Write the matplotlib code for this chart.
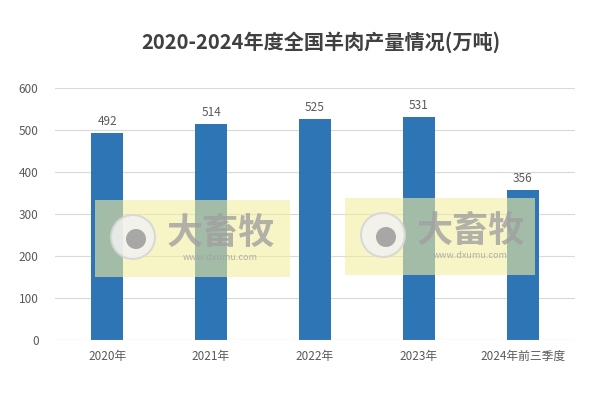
import matplotlib
matplotlib.use('Agg')
import matplotlib.pyplot as plt
from matplotlib.patches import Rectangle, Circle

plt.rcParams['font.family'] = ['Noto Sans CJK SC', 'DejaVu Sans']

categories = ["2020年", "2021年", "2022年", "2023年", "2024年前三季度"]
values = [492, 514, 525, 531, 356]
yticks = [0, 100, 200, 300, 400, 500, 600]

BAR = "#2E75B6"
TXT = "#595959"

fig = plt.figure(figsize=(6.0, 3.94), dpi=100)
fig.patch.set_facecolor("white")
ax = fig.add_axes([0.092, 0.137, 0.866, 0.640])

x = range(len(categories))
ax.bar(x, values, width=0.31, color=BAR, zorder=3)
for i, v in zip(x, values):
    ax.text(i, v + 12, str(v), ha="center", va="bottom", fontsize=8.5, color=TXT)

ax.set_ylim(0, 600)
ax.set_xlim(-0.5, len(categories) - 0.5)
ax.set_yticks(yticks)
ax.set_xticks(list(x))
ax.set_xticklabels(categories)
ax.tick_params(axis="both", length=0, colors=TXT, labelsize=8.5)
ax.tick_params(axis="y", pad=12)
ax.tick_params(axis="x", pad=7)
ax.grid(axis="y", color="#D9D9D9", linewidth=0.8, zorder=0)
for s in ax.spines.values():
    s.set_visible(False)
ax.axhline(0, color="#D9D9D9", linewidth=0.8, zorder=4)

fig.text(0.535, 0.893, "2020-2024年度全国羊肉产量情况(万吨)", ha="center", va="center",
         fontsize=14.5, fontweight="bold", color="#404040")

# watermark boxes
W, H = 600, 394
for (x0, x1, y0, y1) in [(95, 290, 200, 277), (345, 535, 198, 275)]:
    fig.patches.append(Rectangle((x0 / W, 1 - y1 / H), (x1 - x0) / W, (y1 - y0) / H,
                                 transform=fig.transFigure, facecolor="#F3EDA0",
                                 alpha=0.6, edgecolor="none", zorder=5))
    cx, cy = x0 + 38, H - (y0 + 37)
    fig.patches.append(Circle((cx, cy), 22, transform=None, facecolor="#F2F2F2",
                              edgecolor="#D5D5D5", linewidth=1.5, alpha=0.85, zorder=6))
    fig.patches.append(Circle((cx + 3, cy - 2), 10, transform=None, facecolor="#9A9A9A",
                              edgecolor="none", alpha=0.85, zorder=7))
    fig.text((x0 + 126) / W, 1 - (y0 + 33) / H, "大畜牧", ha="center", va="center",
             fontsize=26, fontweight="bold", color="#A0A0A0", alpha=0.8, zorder=8)
    fig.text((x0 + 125) / W, 1 - (y0 + 58) / H, "www.dxumu.com", ha="center", va="center",
             fontsize=6.5, color="#A0A0A0", alpha=0.8, zorder=8)

fig.savefig("out.png", dpi=100, facecolor="white")
